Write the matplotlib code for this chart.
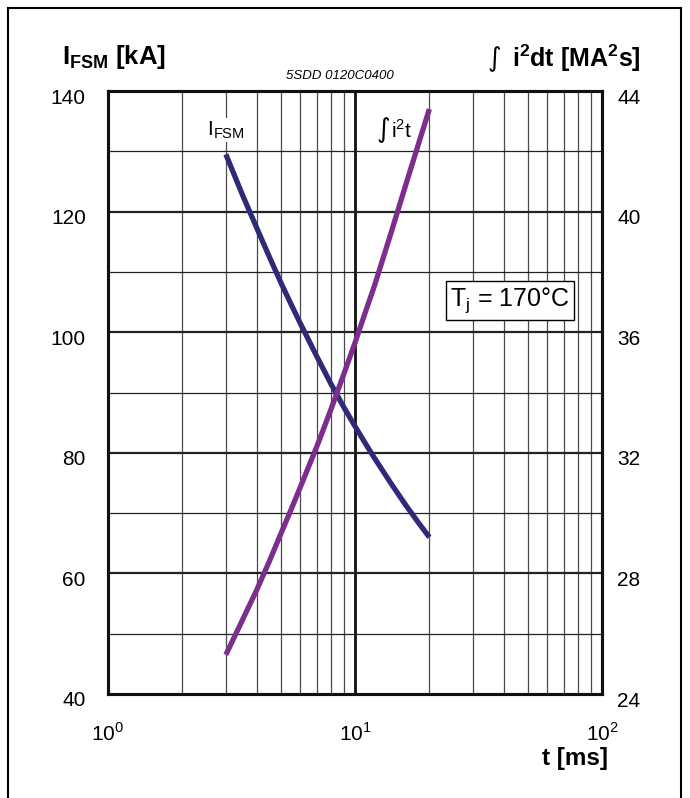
import numpy as np
import matplotlib.pyplot as plt
import matplotlib.transforms as mtransforms
from matplotlib.lines import Line2D

plt.rcParams['font.family'] = ['Liberation Sans', 'DejaVu Sans']

t_ms = [3, 3.5, 4, 4.5, 5, 5.5, 6, 7, 8, 9, 10, 11, 12, 14, 16, 18, 20]
i_fsm = [129.5, 122.8, 117.3, 112.5, 108.3, 104.7, 101.5, 96.0, 91.4, 87.6,
         84.4, 81.6, 79.1, 74.9, 71.4, 68.5, 66.0]
i2t = [25.3, 26.45, 27.45, 28.4, 29.3, 30.1, 30.85, 32.2, 33.45, 34.6,
       35.65, 36.65, 37.55, 39.3, 40.85, 42.2, 43.4]

left_ticks = [40, 60, 80, 100, 120, 140]
right_ticks = [24, 28, 32, 36, 40, 44]

blue = '#2f2a78'
purple = '#7d2e8c'

fig = plt.figure(figsize=(6.9, 7.98), dpi=100)
ax = fig.add_axes([108 / 690, 1 - 694 / 798, 494 / 690, 603 / 798])
ax2 = ax.twinx()

ax.set_xscale('log')
ax.set_xlim(1, 100)
ax.set_ylim(40, 140)
ax2.set_ylim(24, 44)

# grid
for dec in [1, 10]:
    for k in range(2, 10):
        ax.axvline(dec * k, color='#4a4a4a', lw=0.9, zorder=1)
ax.axvline(10, color='#111111', lw=2.0, zorder=1)
for y in range(50, 140, 10):
    lw = 1.6 if y % 20 == 0 else 0.9
    ax.axhline(y, color='#222222', lw=lw, zorder=1)

ax.plot(t_ms, i_fsm, color=blue, lw=3.8, zorder=3, solid_capstyle='butt')
ax2.plot(t_ms, i2t, color=purple, lw=3.8, zorder=3, solid_capstyle='butt')

ax.set_yticks(left_ticks)
ax2.set_yticks(right_ticks)
ax.set_xticks([1, 10, 100])
ax.set_xticklabels([r'10$^{\mathregular{0}}$', r'10$^{\mathregular{1}}$', r'10$^{\mathregular{2}}$'])
ax.minorticks_off()
ax.tick_params(axis='y', length=0, labelsize=15, pad=16)
ax.tick_params(axis='x', length=0, labelsize=15, pad=20)
ax2.tick_params(axis='y', length=0, labelsize=15, pad=11)

# y labels sit a little below their grid line in the reference
shift = mtransforms.ScaledTranslation(0, -5 / 100, fig.dpi_scale_trans)
for lbl in ax.get_yticklabels() + ax2.get_yticklabels():
    lbl.set_transform(lbl.get_transform() + shift)

for a in (ax, ax2):
    for s in a.spines.values():
        s.set_linewidth(2.2)
        s.set_color('#111111')

# curve labels (on the top axes so the curves do not hide them)
ax2.text(3.0, 42.7, r'I$_{\mathregular{FSM}}$', fontsize=15, ha='center', va='center',
         bbox=dict(fc='white', ec='none', pad=1), zorder=4)
ax2.text(13.0, 42.7, '∫', fontsize=19, family=['DejaVu Sans'],
         ha='center', va='center', zorder=4)
ax2.text(13.95, 42.7, r'i$^{\mathregular{2}}$t', fontsize=15, ha='left', va='center',
         zorder=4)

ax2.text(42.4, 37.05, r'T$_{\mathregular{j}}$ = 170°C', fontsize=18, ha='center', va='center',
         bbox=dict(fc='white', ec='black', lw=1, pad=3), zorder=4)

# titles
fig.text(62 / 690, 1 - 57 / 798, r'I$_{\mathregular{FSM}}$ [kA]', fontsize=18.5,
         fontweight='bold', ha='left', va='center')
fig.text(494 / 690, 1 - 59 / 798, '∫', fontsize=19, family=['DejaVu Sans'],
         ha='center', va='center')
fig.text(641 / 690, 1 - 58 / 798, r'i$^{\mathregular{2}}$dt [MA$^{\mathregular{2}}$s]',
         fontsize=18, fontweight='bold', ha='right', va='center')
fig.text(340 / 690, 1 - 76 / 798, '5SDD 0120C0400', fontsize=9.5, style='italic',
         ha='center', va='center')
fig.text(608 / 690, 1 - 758 / 798, 't [ms]', fontsize=17.5, fontweight='bold',
         ha='right', va='center')

# outer frame (open at the bottom)
for xs, ys in [([8, 8], [798, 8]), ([8, 681], [8, 8]), ([681, 681], [8, 798])]:
    fig.add_artist(Line2D([x / 690 for x in xs], [1 - y / 798 for y in ys],
                          transform=fig.transFigure, color='black', lw=1.5))

fig.savefig('out.png', dpi=100)
